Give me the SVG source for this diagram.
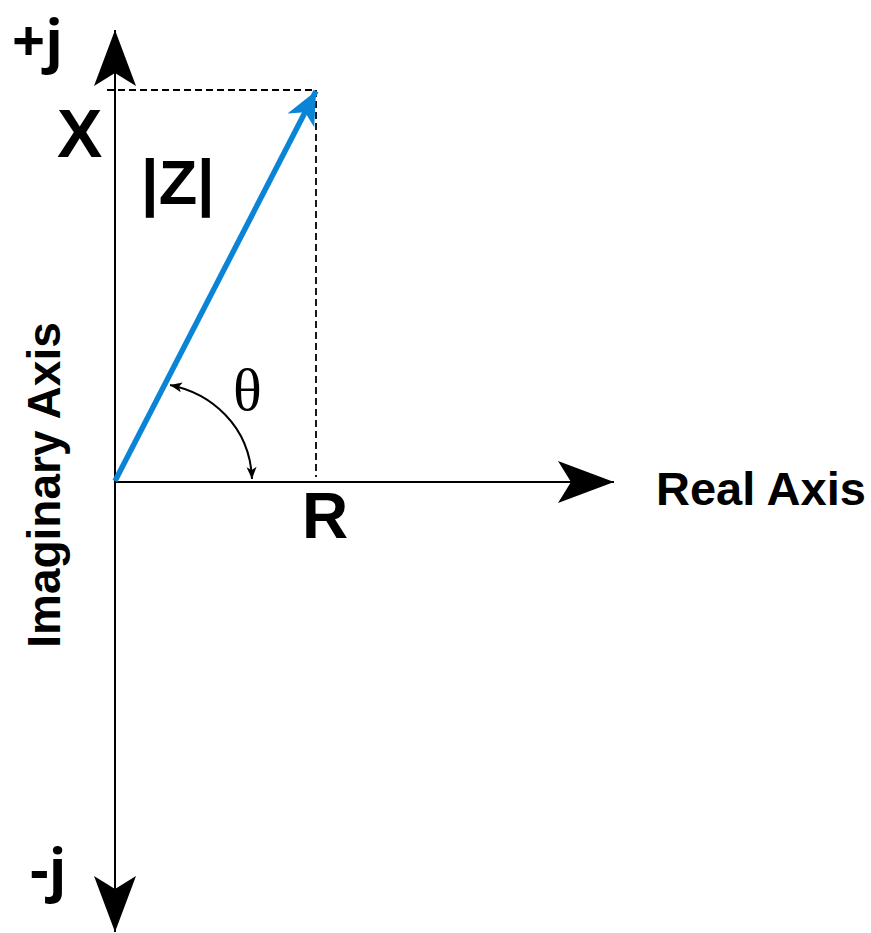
<svg xmlns="http://www.w3.org/2000/svg" width="871" height="933" viewBox="0 0 871 933">
<style>
.axis{stroke:#000;stroke-width:2;fill:none}
.dash{stroke:#000;stroke-width:1.8;stroke-dasharray:7 4;fill:none}
.lbl{font-family:"Liberation Sans",Arial,sans-serif;font-weight:bold;fill:#000}
.j{font-family:"Open Sans","Liberation Sans",sans-serif;font-weight:bold;fill:#000;font-size:58px}
</style>
<defs>
<marker id="big" markerUnits="userSpaceOnUse" markerWidth="60" markerHeight="46" viewBox="-57 -23 60 46" refX="0" refY="0" orient="auto">
<path d="M0,0 L-56,-21 L-43,0 L-56,21 Z" fill="#000"/>
</marker>
<marker id="blue" markerUnits="userSpaceOnUse" markerWidth="36" markerHeight="34" viewBox="-34 -17 36 34" refX="0" refY="0" orient="auto">
<path d="M0,0 L-33,-15 L-24,0 L-33,15 Z" fill="#0A84D6"/>
</marker>
<marker id="small" markerUnits="userSpaceOnUse" markerWidth="14" markerHeight="12" viewBox="-13 -6 14 12" refX="0" refY="0" orient="auto-start-reverse">
<path d="M0,0 L-12,-5 L-9,0 L-12,5 Z" fill="#000"/>
</marker>
</defs>
<g id="connectors">
<line class="axis" x1="115" y1="482" x2="115" y2="30" marker-end="url(#big)"/>
<line class="axis" x1="115" y1="482" x2="115" y2="932" marker-end="url(#big)"/>
<line class="axis" x1="115" y1="482" x2="614" y2="482" marker-end="url(#big)"/>
<line class="dash" x1="107" y1="90" x2="316" y2="90"/>
<line class="dash" x1="316" y1="90" x2="316" y2="477"/>
<line x1="115" y1="481" x2="316" y2="91" stroke="#0A84D6" stroke-width="5.5" marker-end="url(#blue)"/>
<path d="M 170 385 C 210 393, 250 425, 252 479" class="axis" stroke-width="1.5" marker-start="url(#small)" marker-end="url(#small)"/>
</g>
<g id="plus-j"><text class="j" x="12" y="61">+j</text></g>
<g id="minus-j"><text class="j" x="30" y="890">-j</text></g>
<g id="label-x"><text class="lbl" x="57" y="157" font-size="68">X</text></g>
<g id="label-z"><text class="lbl" x="141" y="204" font-size="63">|Z|</text></g>
<g id="label-theta"><text x="233" y="410" font-family="'Liberation Serif','Times New Roman',serif" font-size="60" fill="#000">θ</text></g>
<g id="label-r"><text class="lbl" x="302" y="538" font-size="64">R</text></g>
<g id="real-axis"><text class="lbl" x="656" y="505" font-size="47">Real Axis</text></g>
<g id="imag-axis"><text class="lbl" transform="translate(60,485) rotate(-90)" text-anchor="middle" font-size="46">Imaginary Axis</text></g>
</svg>
